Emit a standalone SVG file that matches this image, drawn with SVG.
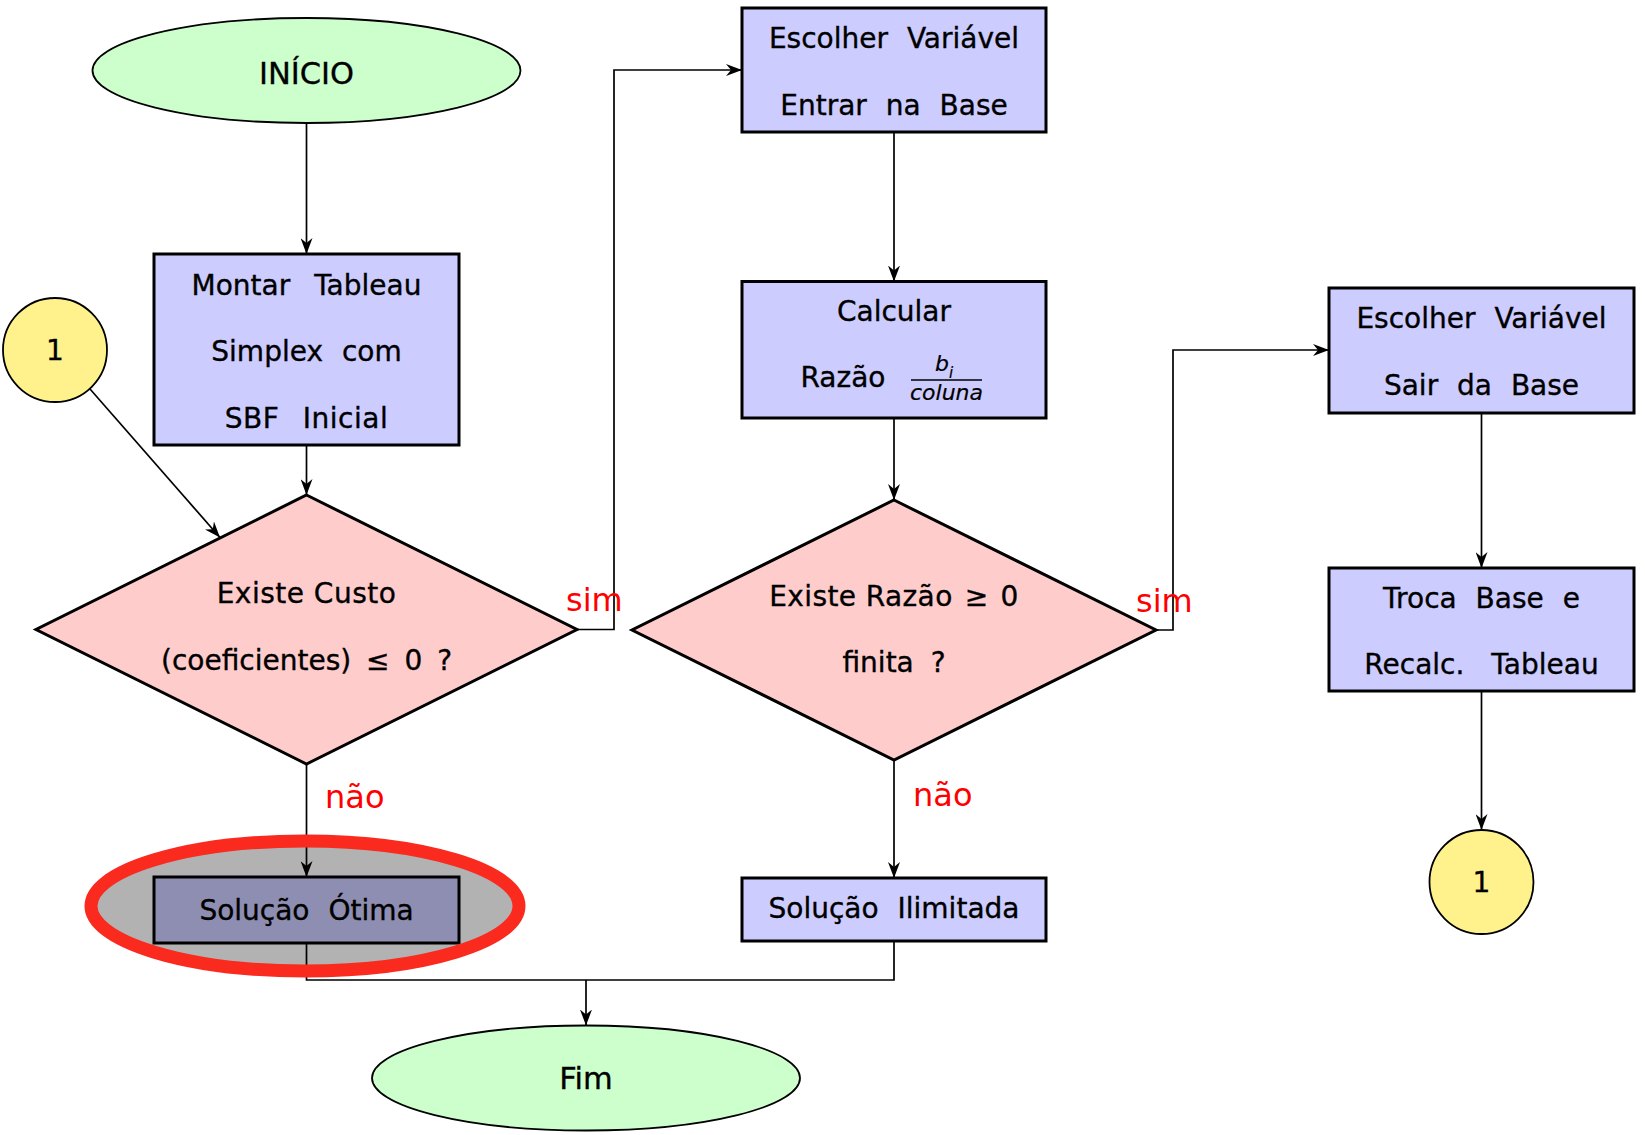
<svg xmlns="http://www.w3.org/2000/svg" width="1645" height="1135" viewBox="0 0 1645 1135">
<style>
text{font-family:"DejaVu Sans","Liberation Sans",sans-serif;font-size:28px;fill:#000;text-anchor:middle;stroke:#000;stroke-width:0.35}
.term{fill:#ccffcc;stroke:#000;stroke-width:1.8}
.box{fill:#ccccff;stroke:#000;stroke-width:3}
.dec{fill:#ffcccc;stroke:#000;stroke-width:3}
.con{fill:#fff28c;stroke:#000;stroke-width:1.8}
.edge{fill:none;stroke:#000;stroke-width:1.7}
.big{font-size:30.5px}
text.lbl{fill:#ff0000;stroke:none;font-size:32px;text-anchor:start}
.ws{word-spacing:10px}
.it{font-style:italic;font-size:22px;stroke-width:0.2}
</style>
<defs>
<marker id="arr" viewBox="0 0 16 12" refX="16" refY="6" markerWidth="16" markerHeight="12" markerUnits="userSpaceOnUse" orient="auto">
<path d="M0,0 L16,6 L0,12 L5,6 z" fill="#000"/>
</marker>
</defs>
<rect width="1645" height="1135" fill="#fff"/>

<g id="inicio"><ellipse class="term" cx="306.5" cy="70.5" rx="214" ry="52.5"/><text class="big" x="306.5" y="84">INÍCIO</text></g>
<g id="montar"><rect class="box" x="154" y="254" width="305" height="191"/>
<text x="306.5" y="295" style="word-spacing:15px">Montar Tableau</text>
<text class="ws" x="306.5" y="361">Simplex com</text>
<text x="306.5" y="428" style="word-spacing:14px;letter-spacing:0.5px">SBF Inicial</text></g>
<g id="conector1a"><circle class="con" cx="55" cy="350" r="52"/><text x="55" y="360">1</text></g>
<g id="existeCusto"><polygon class="dec" points="306.5,495 577,629.5 306.5,764 36,629.5"/>
<text x="306.5" y="603" style="letter-spacing:0.5px">Existe Custo</text>
<text x="306.5" y="670" style="word-spacing:6px">(coeficientes) ≤ 0 ?</text></g>
<g id="solucaoOtima"><rect class="box" x="154" y="877" width="305" height="66"/><text class="ws" x="306.5" y="920">Solução Ótima</text></g>
<g id="fim"><ellipse class="term" cx="586" cy="1078" rx="214" ry="52.5"/><text class="big" x="586" y="1089">Fim</text></g>

<g id="entrar"><rect class="box" x="742" y="8" width="304" height="124"/>
<text class="ws" x="894" y="48">Escolher Variável</text>
<text class="ws" x="894" y="115">Entrar na Base</text></g>
<g id="calcular"><rect class="box" x="742" y="281.5" width="304" height="136.5"/>
<text x="894" y="321">Calcular</text>
<text x="843" y="387">Razão</text>
<text class="it" x="944" y="371">b<tspan dy="7" style="font-size:15px">i</tspan></text>
<line x1="911" y1="380" x2="982" y2="380" stroke="#000" stroke-width="1.3"/>
<text class="it" x="946.5" y="400">coluna</text></g>
<g id="existeRazao"><polygon class="dec" points="894,500 1156,630 894,760 632,630"/>
<text x="894" y="606" style="letter-spacing:0.4px">Existe Razão<tspan dx="12">≥</tspan><tspan dx="12">0</tspan></text>
<text x="894" y="672" style="word-spacing:8px">finita ?</text></g>
<g id="solucaoIlimitada"><rect class="box" x="742" y="878" width="304" height="63"/><text class="ws" x="894" y="918">Solução Ilimitada</text></g>

<g id="sair"><rect class="box" x="1329" y="288" width="305" height="125"/>
<text class="ws" x="1481.5" y="328">Escolher Variável</text>
<text class="ws" x="1481.5" y="395">Sair da Base</text></g>
<g id="troca"><rect class="box" x="1329" y="568" width="305" height="123"/>
<text class="ws" x="1481.5" y="608">Troca Base e</text>
<text x="1481.5" y="674" style="word-spacing:18px">Recalc. Tableau</text></g>
<g id="conector1b"><circle class="con" cx="1481.5" cy="882" r="52"/><text x="1481.5" y="892">1</text></g>

<g id="connectors">
<path class="edge" d="M306.5,123 V254" marker-end="url(#arr)"/>
<path class="edge" d="M306.5,445 V495" marker-end="url(#arr)"/>
<path class="edge" d="M90,389 L220,537.5" marker-end="url(#arr)"/>
<path class="edge" d="M306.5,764 V877" marker-end="url(#arr)"/>
<path class="edge" d="M577,629.5 H614 V70 H742" marker-end="url(#arr)"/>
<path class="edge" d="M894,132 V281.5" marker-end="url(#arr)"/>
<path class="edge" d="M894,418 V500" marker-end="url(#arr)"/>
<path class="edge" d="M894,760 V878" marker-end="url(#arr)"/>
<path class="edge" d="M1156,630 H1173 V350 H1329" marker-end="url(#arr)"/>
<path class="edge" d="M1481.5,413 V568" marker-end="url(#arr)"/>
<path class="edge" d="M1481.5,691 V830" marker-end="url(#arr)"/>
<path class="edge" d="M306.5,943 V980 H894 V941"/>
<path class="edge" d="M586,980 V1025.5" marker-end="url(#arr)"/>
<text class="lbl" x="566" y="611">sim</text>
<text class="lbl" x="1136" y="612">sim</text>
<text class="lbl" x="325" y="808">não</text>
<text class="lbl" x="913" y="806">não</text>
</g>

<g id="destaque"><ellipse cx="305" cy="906" rx="214" ry="65" fill="#000" fill-opacity="0.3" stroke="#fa2a1e" stroke-width="13"/></g>
</svg>
